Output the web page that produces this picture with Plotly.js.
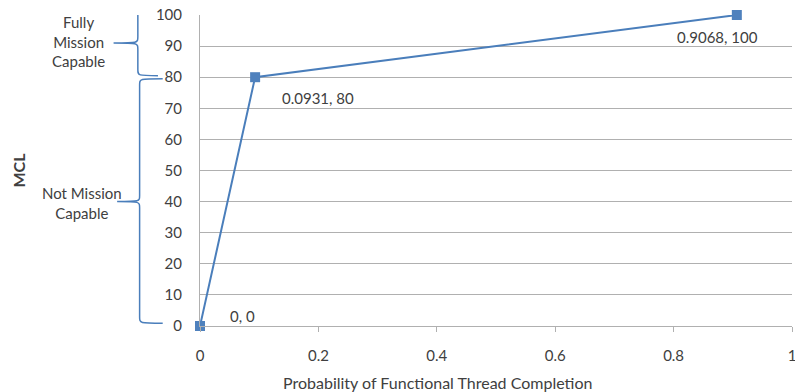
<!DOCTYPE html>
<html>
<head>
<meta charset="utf-8">
<script src="https://cdn.plot.ly/plotly-3.0.1.min.js"></script>
<style>
  html, body { margin: 0; padding: 0; background: #fff; }
  #chart { width: 795px; height: 392px; }
</style>
</head>
<body>
<div id="chart"></div>
<script>
// Mission capability level versus probability of functional thread completion
const probability = [0, 0.0931, 0.9068];
const mcl = [0, 80, 100];

const xTickVals = [0, 0.2, 0.4, 0.6, 0.8, 1];
const xTickText = ['0', '0.2', '0.4', '0.6', '0.8', '1'];
const yTickVals = [0, 10, 20, 30, 40, 50, 60, 70, 80, 90, 100];

// Capability bands marked with braces beside the y axis
const bandLabels = ['Fully<br>Mission<br>Capable', 'Not Mission<br>Capable'];

const FONT = 'Lato, "Noto Sans", sans-serif';
const TEXT = '#404040';
const BLUE = '#4a7ebb';
const GRID = '#b0b0b0';

// offsets (px) of each data label from its point
const labelShift = [[28, 10], [25, -21], [-62, -22]];

const trace = {
  x: probability,
  y: mcl,
  type: 'scatter',
  mode: 'lines+markers',
  cliponaxis: false,
  line: { color: BLUE, width: 2 },
  marker: { symbol: 'square', size: 10, color: '#4f81bd' },
  hoverinfo: 'x+y',
  showlegend: false
};

const annotations = probability.map((p, i) => ({
  x: p, y: mcl[i], xref: 'x', yref: 'y',
  text: p + ', ' + mcl[i],
  showarrow: false,
  xanchor: 'left', yanchor: 'middle',
  xshift: labelShift[i][0], yshift: labelShift[i][1],
  font: { family: FONT, size: 15, color: TEXT }
}));

// x-axis title, centred under the labelled region
annotations.push({
  x: 0.401, y: 0, xref: 'paper', yref: 'paper',
  yshift: -56, yanchor: 'middle', xanchor: 'center',
  text: 'Probability of Functional Thread Completion',
  showarrow: false,
  font: { family: FONT, size: 16, color: TEXT }
});

// brace geometry: x in paper units (left of the plot area), y in data units
const braceGeom = [
  { xe: -0.071, xv: -0.105, xt: -0.146, top: 101.9, bot: 80.5, mid: 91, textX: -0.206, textY: 91.6 },
  { xe: -0.063, xv: -0.102, xt: -0.140, top: 79.5, bot: 0.9, mid: 40, textX: -0.199, textY: 39.5 }
];

const shapes = [];
braceGeom.forEach((g, i) => {
  const r = 2;
  const mid = g.mid;
  const path =
    'M ' + g.xe + ',' + g.top +
    ' C ' + g.xv + ',' + g.top + ' ' + g.xv + ',' + g.top + ' ' + g.xv + ',' + (g.top - r) +
    ' L ' + g.xv + ',' + (mid + r) +
    ' C ' + g.xv + ',' + mid + ' ' + g.xv + ',' + mid + ' ' + g.xt + ',' + mid +
    ' C ' + g.xv + ',' + mid + ' ' + g.xv + ',' + mid + ' ' + g.xv + ',' + (mid - r) +
    ' L ' + g.xv + ',' + (g.bot + r) +
    ' C ' + g.xv + ',' + g.bot + ' ' + g.xv + ',' + g.bot + ' ' + g.xe + ',' + g.bot;
  shapes.push({
    type: 'path', xref: 'paper', yref: 'y', path: path,
    line: { color: BLUE, width: 1.5 }, layer: 'above'
  });
  annotations.push({
    x: g.textX, y: g.textY, xref: 'paper', yref: 'y',
    text: bandLabels[i], showarrow: false,
    xanchor: 'center', yanchor: 'middle', align: 'center',
    font: { family: FONT, size: 15, color: TEXT }
  });
});

const layout = {
  width: 795, height: 392,
  margin: { l: 200, r: 3, t: 15, b: 66 },
  paper_bgcolor: '#ffffff',
  plot_bgcolor: '#ffffff',
  font: { family: FONT, color: TEXT, size: 15 },
  xaxis: {
    range: [0, 1],
    tickvals: xTickVals, ticktext: xTickText,
    showgrid: false, zeroline: false,
    showline: true, linecolor: GRID, linewidth: 1,
    ticks: 'outside', ticklen: 5, tickcolor: GRID,
    ticklabelstandoff: 11,
    ticklabeloverflow: 'allow',
    tickfont: { family: FONT, size: 15, color: TEXT },
    fixedrange: true
  },
  yaxis: {
    range: [0, 100],
    tickvals: yTickVals,
    showgrid: true, gridcolor: GRID, gridwidth: 1,
    zeroline: false,
    showline: true, linecolor: GRID, linewidth: 1,
    ticks: '', ticklabelstandoff: 14,
    tickfont: { family: FONT, size: 15, color: TEXT },
    title: { text: '<b>MCL</b>', standoff: 126, font: { family: FONT, size: 16, color: TEXT } },
    fixedrange: true
  },
  shapes: shapes,
  annotations: annotations
};

Plotly.newPlot('chart', [trace], layout, { displayModeBar: false, staticPlot: true });
</script>
</body>
</html>
